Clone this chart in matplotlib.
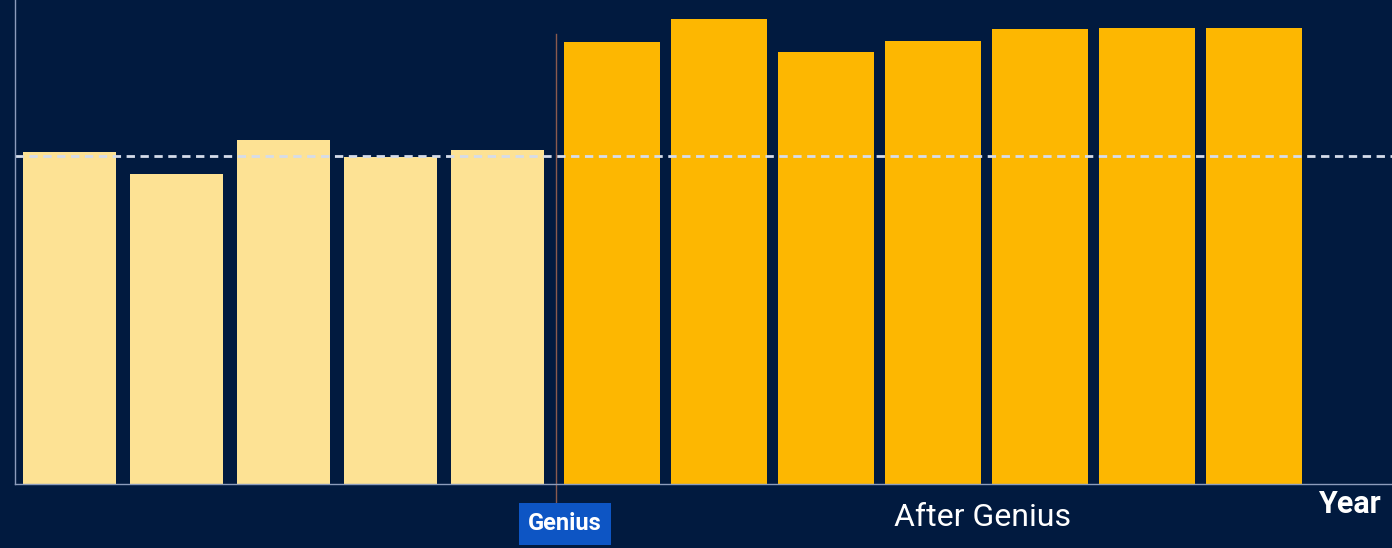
import matplotlib.pyplot as plt

# bar heights (arbitrary units)
before = [332, 310, 344, 327, 334]
after = [442, 465, 432, 443, 455, 456, 456]
avg_before = 328

bg = "#011a3f"
light = "#fde294"
gold = "#fdb701"

plt.rcParams["font.family"] = ["Roboto", "DejaVu Sans"]

fig = plt.figure(figsize=(13.92, 5.48), dpi=100, facecolor=bg)
ax = fig.add_axes([15 / 1392, 1 - 484 / 548, 1377 / 1392, 484 / 548])
ax.set_facecolor(bg)

xb = list(range(len(before)))
xa = [i + len(before) + 0.07 for i in range(len(after))]
ax.bar(xb, before, width=0.87, color=light)
ax.bar(xa, after, width=0.89, color=gold)

# average of the pre-Genius years, carried across
ax.axhline(avg_before, color="#d5dcea", linestyle=(0, (3, 2)), linewidth=2)

# Genius marker
gx = 4.55
ax.plot([gx, gx], [-18, 450], color="#8a5a4e", linewidth=1, clip_on=False)
ax.text(gx + 0.08, -40, "Genius", color="white", fontsize=17, fontweight="bold",
        ha="center", va="center",
        bbox=dict(boxstyle="square,pad=0.4", facecolor="#0d55c4", edgecolor="none"))
ax.text(8.53, -33, "After Genius", color="white", fontsize=23, ha="center", va="center")
ax.text(11.96, -20, "Year", color="white", fontsize=22, fontweight="bold",
        ha="center", va="center")

ax.set_xlim(-0.51, 12.36)
ax.set_ylim(0, 484)
for s in ["top", "right"]:
    ax.spines[s].set_visible(False)
for s in ["left", "bottom"]:
    ax.spines[s].set_color("#8c9cbc")
    ax.spines[s].set_linewidth(1)
ax.set_xticks([])
ax.set_yticks([])

fig.savefig("out.png", dpi=100, facecolor=bg)
